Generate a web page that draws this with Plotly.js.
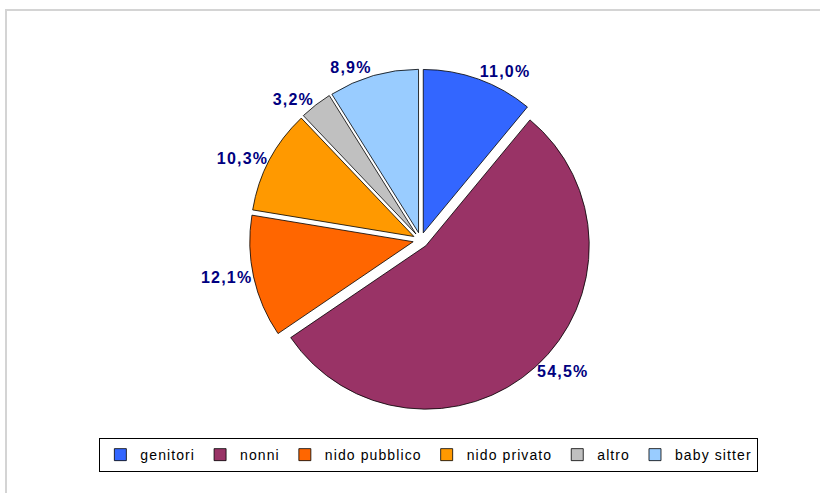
<!DOCTYPE html>
<html>
<head>
<meta charset="utf-8">
<script src="https://cdn.plot.ly/plotly-3.0.1.min.js"></script>
<style>
  html, body { margin: 0; padding: 0; background: #fff; }
  #wrap { position: relative; width: 820px; height: 493px; overflow: hidden; }
  #frame { position: absolute; left: 5px; top: 9px; right: -10px; bottom: -10px;
           border-top: 2px solid #d4d4d4; border-left: 2px solid #d4d4d4; }
  #chart { position: absolute; left: 0; top: 0; width: 820px; height: 493px; }
  .slicetext text { letter-spacing: 1.2px; }
  text.legendtext { letter-spacing: 1.1px; }
</style>
</head>
<body>
<div id="wrap">
  <div id="frame"></div>
  <div id="chart"></div>
</div>
<script>
// Data
const categories = ["genitori", "nonni", "nido pubblico", "nido privato", "altro", "baby sitter"];
const shares = [11.0, 54.5, 12.1, 10.3, 3.2, 8.9];
const sliceColors = ["#3366FF", "#993366", "#FF6600", "#FF9900", "#C0C0C0", "#99CCFF"];

const trace = {
  type: "pie",
  labels: categories,
  values: shares,
  sort: false,
  direction: "clockwise",
  rotation: 0,
  pull: 0.047,
  marker: { colors: sliceColors, line: { color: "#000000", width: 0.8 } },
  textposition: "outside",
  texttemplate: "%{percent:.1%}",
  textfont: { family: "Liberation Sans, Arial, sans-serif", size: 16, color: "#000080", weight: "bold" },
  hoverinfo: "none",
  domain: { x: [0.302, 0.724], y: [0.166, 0.860] },
  automargin: false
};

const layout = {
  width: 820,
  height: 493,
  margin: { l: 0, r: 0, t: 0, b: 0 },
  paper_bgcolor: "rgba(0,0,0,0)",
  plot_bgcolor: "rgba(0,0,0,0)",
  separators: ",.",
  showlegend: true,
  legend: {
    orientation: "h",
    x: 0.523, xanchor: "center",
    y: 0.077, yanchor: "middle",
    bordercolor: "#000000",
    borderwidth: 1,
    bgcolor: "#ffffff",
    font: { family: "Liberation Sans, Arial, sans-serif", size: 14, color: "#000000" },
    traceorder: "normal"
  }
};

Plotly.newPlot("chart", [trace], layout, { displayModeBar: false, staticPlot: true });
</script>
</body>
</html>
